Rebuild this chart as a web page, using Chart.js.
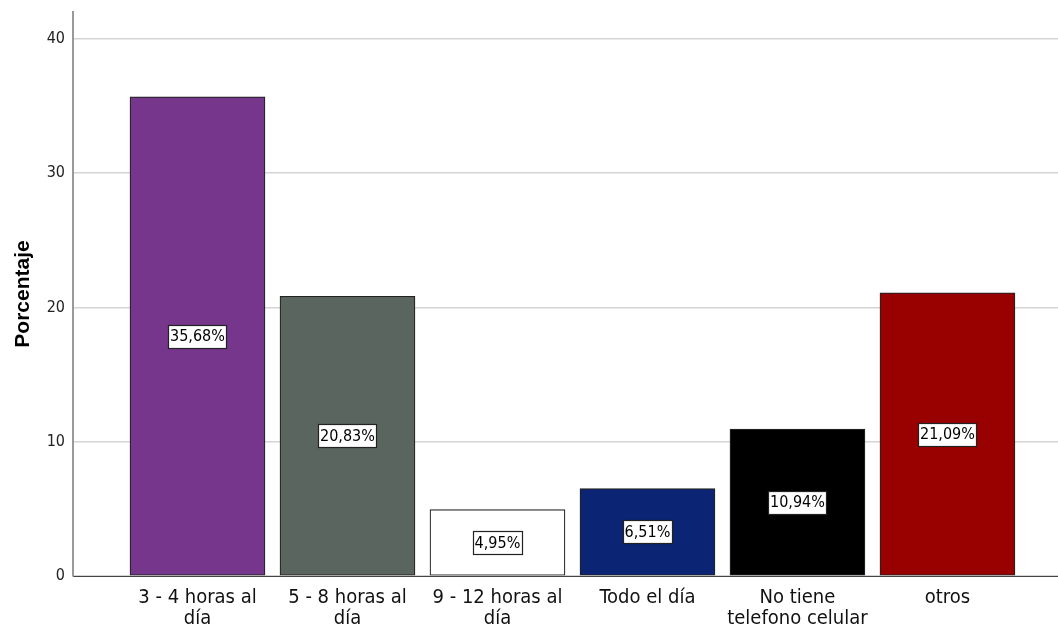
<!DOCTYPE html>
<html>
<head>
<meta charset="utf-8">
<script src="https://cdn.jsdelivr.net/npm/chart.js@4/dist/chart.umd.min.js"></script>
<style>
html,body{margin:0;padding:0;background:#fff;}
#wrap{width:1058px;height:633px;position:relative;}
</style>
</head>
<body>
<div id="wrap"><canvas id="c" width="1058" height="633"></canvas></div>
<script>
const categories = [
  ["3 - 4 horas al", "día"],
  ["5 - 8 horas al", "día"],
  ["9 - 12 horas al", "día"],
  ["Todo el día"],
  ["No tiene", "telefono celular"],
  ["otros"]
];
const values = [35.68, 20.83, 4.95, 6.51, 10.94, 21.09];
const valueLabels = ["35,68%", "20,83%", "4,95%", "6,51%", "10,94%", "21,09%"];
const barColors = ["#76368C", "#5A6560", "#FFFFFF", "#0B2473", "#000000", "#990000"];
const yTicks = [0, 10, 20, 30, 40];

const NARROW = "'DejaVu Sans Condensed', 'Liberation Sans Narrow', 'Liberation Sans', Arial, sans-serif";

const labelPlugin = {
  id: 'valueBoxes',
  afterDatasetsDraw(chart) {
    const ctx = chart.ctx;
    const meta = chart.getDatasetMeta(0);
    ctx.save();
    ctx.font = "16px " + NARROW;
    ctx.textAlign = "center";
    ctx.textBaseline = "middle";
    meta.data.forEach((bar, i) => {
      const cx = bar.x;
      const cy = (bar.y + bar.base) / 2;
      const t = valueLabels[i];
      const w = Math.round(ctx.measureText(t).width + 3);
      const h = 23;
      const x0 = Math.round(cx - w / 2) + 0.5;
      const y0 = Math.round(cy - h / 2) + 0.5;
      ctx.fillStyle = "#fff";
      ctx.fillRect(x0, y0, w, h);
      ctx.strokeStyle = "#222";
      ctx.lineWidth = 1.2;
      ctx.strokeRect(x0, y0, w, h);
      ctx.fillStyle = "#000";
      ctx.fillText(t, cx, cy + 1);
    });
    ctx.restore();
  }
};

new Chart(document.getElementById('c'), {
  type: 'bar',
  data: {
    datasets: [{
      data: values.map((v, i) => ({ x: i + 1, y: v })),
      backgroundColor: barColors,
      borderColor: "#222",
      borderWidth: 1.2,
      borderSkipped: false,
      barThickness: 135
    }]
  },
  options: {
    responsive: false,
    animation: false,
    layout: { padding: { top: 12, left: 0, right: 0, bottom: 0 } },
    plugins: { legend: { display: false }, tooltip: { enabled: false } },
    scales: {
      x: {
        type: 'linear',
        offset: false,
        min: 0.17,
        max: 6.737,
        afterBuildTicks(scale) { scale.ticks = [1, 2, 3, 4, 5, 6].map(v => ({ value: v })); },
        afterFit(scale) { scale.height = 57; scale.paddingLeft = 0; scale.paddingRight = 0; },
        grid: { display: false, drawTicks: false, offset: false },
        border: { display: true, color: "#444", width: 1 },
        ticks: {
          autoSkip: false,
          maxRotation: 0,
          padding: 11,
          color: "#111",
          font: { family: NARROW, size: 20, lineHeight: 1.05 },
          callback: (v) => categories[v - 1]
        }
      },
      y: {
        min: 0,
        max: 42,
        afterBuildTicks(scale) { scale.ticks = yTicks.map(v => ({ value: v })); },
        afterFit(scale) { scale.width = 73; scale.paddingTop = 0; },
        grid: { color: "#d4d4d4", lineWidth: 1.5, drawTicks: false },
        border: { display: true, color: "#999", width: 2 },
        ticks: {
          padding: 8,
          color: "#222",
          font: { family: NARROW, size: 16 }
        },
        title: {
          display: true,
          text: "Porcentaje",
          color: "#000",
          padding: { top: 11, bottom: 0 },
          font: { family: "'Liberation Sans', Arial, sans-serif", size: 21, weight: 'bold' }
        }
      }
    }
  },
  plugins: [labelPlugin]
});
</script>
</body>
</html>
